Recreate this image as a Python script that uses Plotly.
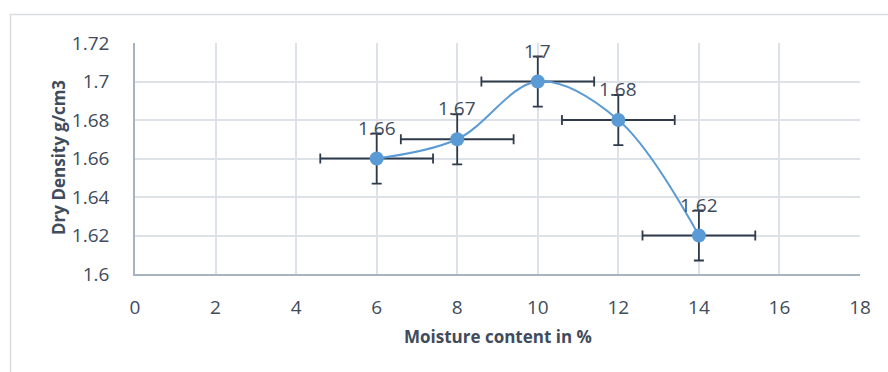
import plotly.graph_objects as go

# Compaction test results
moisture = [6, 8, 10, 12, 14]
dry_density = [1.66, 1.67, 1.70, 1.68, 1.62]
moisture_err = [1.4, 1.4, 1.4, 1.4, 1.4]
density_err = [0.013, 0.013, 0.013, 0.013, 0.013]
x_ticks = [0, 2, 4, 6, 8, 10, 12, 14, 16, 18]
y_ticks = [1.6, 1.62, 1.64, 1.66, 1.68, 1.7, 1.72]
y_tick_text = ["1.6", "1.62", "1.64", "1.66", "1.68", "1.7", "1.72"]

W, H = 888, 372
ML, MR, MT, MB = 135, 28, 43, 98
PW, PH = W - ML - MR, H - MT - MB

TXT = "#404b5c"
GRID = "#dde2e8"
AXIS = "#a8b3c1"
BLUE = "#5b9bd5"
ERR = "#2f3a4a"
FONT = "Open Sans"


def px_x(p):
    return (p - ML) / PW


def px_y(p):
    return 1 - (p - MT) / PH


fig = go.Figure()
fig.add_trace(go.Scatter(
    x=moisture, y=dry_density,
    mode="lines+markers",
    line=dict(color=BLUE, width=2, shape="spline", smoothing=1),
    marker=dict(color=BLUE, size=14),
    error_x=dict(type="data", array=moisture_err, color=ERR, thickness=1.8, width=5),
    error_y=dict(type="data", array=density_err, color=ERR, thickness=1.8, width=5),
    hoverinfo="skip",
    showlegend=False,
    cliponaxis=False,
))

# value labels above each point
for xv, yv in zip(moisture, dry_density):
    fig.add_annotation(
        x=xv, y=yv, text=f"{yv:g}", showarrow=False,
        yshift=31, yanchor="middle",
        font=dict(family=FONT, size=19, color=TXT),
    )

# axis titles
fig.add_annotation(
    xref="paper", yref="paper", x=px_x(498), y=px_y(336),
    text="<b>Moisture content in %</b>", showarrow=False,
    xanchor="center", yanchor="middle",
    font=dict(family=FONT, size=17, color=TXT),
)
fig.add_annotation(
    xref="paper", yref="paper", x=px_x(58), y=px_y(158),
    text="<b>Dry Density g/cm3</b>", showarrow=False, textangle=-90,
    xanchor="center", yanchor="middle",
    font=dict(family=FONT, size=17, color=TXT),
)

# chart frame
fig.add_shape(
    type="rect", xref="paper", yref="paper",
    x0=px_x(10.5), y0=px_y(400), x1=px_x(900), y1=px_y(14.5),
    line=dict(color="#d9dde3", width=1.5), layer="below",
)

fig.update_layout(
    width=W, height=H,
    margin=dict(l=ML, r=MR, t=MT, b=MB, pad=0),
    paper_bgcolor="white", plot_bgcolor="white",
    font=dict(family=FONT, size=19, color=TXT),
    xaxis=dict(
        range=[0, 18], tickvals=x_ticks, showgrid=True, gridcolor=GRID, gridwidth=1.5,
        zeroline=False, showline=True, linecolor=AXIS, linewidth=1.5,
        ticks="", ticklabelstandoff=15, tickfont=dict(size=19, color=TXT),
        fixedrange=True,
    ),
    yaxis=dict(
        range=[1.6, 1.72], tickvals=y_ticks, ticktext=y_tick_text,
        showgrid=True, gridcolor=GRID, gridwidth=1.5,
        zeroline=False, showline=True, linecolor=AXIS, linewidth=1.5,
        ticks="", ticklabelstandoff=20, tickfont=dict(size=19, color=TXT),
        fixedrange=True,
    ),
)

fig.write_html("out.html")
